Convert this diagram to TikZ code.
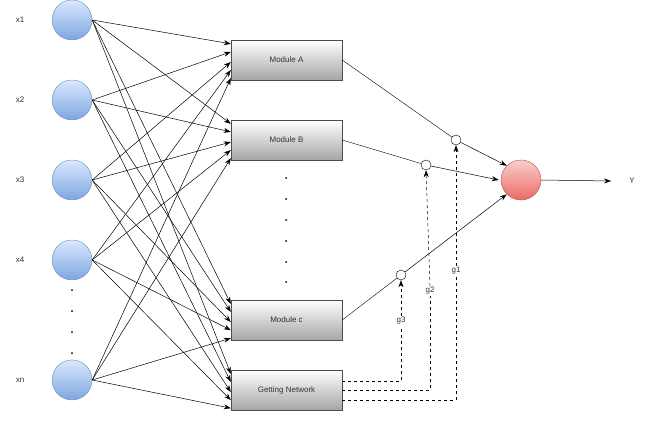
\documentclass[tikz,border=0pt]{standalone}
\usepackage{fontspec}
\setmainfont{Liberation Sans}
\usetikzlibrary{arrows.meta,calc}
\definecolor{bluetop}{HTML}{DAE8FC}\definecolor{bluebot}{HTML}{7EA6E0}\definecolor{blueline}{HTML}{6C8EBF}
\definecolor{redtop}{HTML}{F8CECC}\definecolor{redbot}{HTML}{EA6B66}\definecolor{redline}{HTML}{B85450}
\definecolor{txt}{HTML}{333333}
\begin{document}
\begin{tikzpicture}[x=1pt,y=-1pt,
  font=\fontsize{8}{10}\selectfont,
  inp/.style={circle,minimum size=40pt,inner sep=0,draw=blueline,top color=bluetop,bottom color=bluebot},
  mod/.style={rectangle,minimum width=111pt,minimum height=40pt,inner sep=0,draw=black!70,top color=white,bottom color=black!35,text=txt},
  outn/.style={circle,minimum size=40pt,inner sep=0,draw=redline,top color=redtop,bottom color=redbot},
  gate/.style={circle,minimum size=10pt,inner sep=0,draw=black,fill=white},
  lbl/.style={text=txt,inner sep=1pt},
  arr/.style={-{Stealth[length=7pt,width=5pt]},line width=0.5pt},
  dsh/.style={dashed,line width=0.5pt},
  dot/.style={circle,fill=black,minimum size=2pt,inner sep=0}]
\useasboundingbox (0,0) rectangle (652,422);
\foreach \i/\y in {1/20,2/100,3/180,4/260,n/380}{
  \node[inp] (x\i) at (72,\y) {};
  \node[lbl] (lx\i) at (20,\y) {x\i};
}
\node[mod] (A) at (286.5,60) {Module A};
\node[mod] (B) at (286.5,140) {Module B};
\node[mod] (C) at (286.5,320) {Module c};
\node[mod] (G) at (286.5,390) {Getting Network};
\foreach \k/\y in {1/178,2/199,3/220,4/241,5/262,6/282}{\node[dot] (md\k) at (286,\y) {};}
\foreach \k/\y in {1/290,2/311,3/332,4/353}{\node[dot] (ld\k) at (72,\y) {};}
\foreach \m in {A,B,C,G}{
  \foreach \i/\t in {1/0.1,2/0.3,3/0.55,4/0.75,n/0.95}{
    \draw[arr] (x\i.east) -- ($(\m.north west)!\t!(\m.south west)$);
  }
}
\node[outn] (O) at (521,180) {};
\node[lbl] (Y) at (632,181) {Y};
\coordinate (Yend) at (611,181);
\draw[arr] (O.east) -- (Yend);
\node[gate] (g1) at (456,140) {};
\node[gate] (g2) at (426,165) {};
\node[gate] (g3) at (401,275) {};
\draw (A.east) -- (g1);
\draw[arr] (g1) -- (O.north west);
\draw (B.east) -- (g2);
\draw[arr] (g2) -- ($(O.west)+(-2,0)$);
\draw (C.east) -- (g3);
\draw[arr] (g3) -- (O.south west);
\node[lbl] (lg1) at (456,271) {g1};
\node[lbl] (lg2) at (430,291) {g2};
\node[lbl] (lg3) at (401,321) {g3};
\draw[dsh] ($(G.north east)+(0,11)$) -| (lg3.south);
\draw[dsh,arr] (lg3.north) -- (g3.south);
\draw[dsh] (G.east) -| (lg2.south);
\draw[dsh,arr] (lg2.north) -- (g2.south);
\draw[dsh] ($(G.south east)+(0,-10)$) -| (lg1.south);
\draw[dsh,arr] (lg1.north) -- (g1.south);
\end{tikzpicture}
\end{document}
